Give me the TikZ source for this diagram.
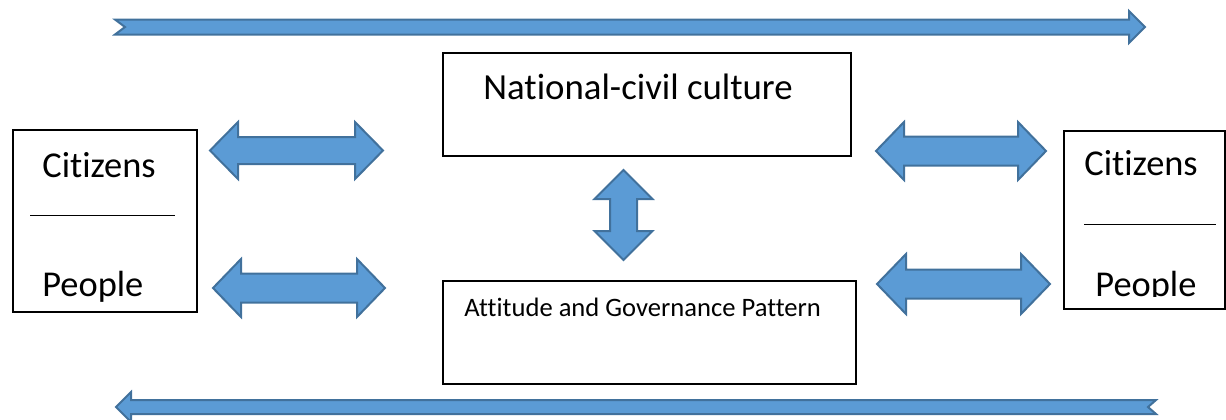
\documentclass[tikz,border=0pt]{standalone}
\usepackage{fontspec}
\setmainfont{Carlito}[Ligatures={NoCommon,NoContextual}]
\definecolor{arrowfill}{HTML}{5B9BD5}
\definecolor{arrowline}{HTML}{41719C}

\begin{document}
\begin{tikzpicture}[x=0.5pt,y=-0.5pt,
    blockarrow/.style={fill=arrowfill,draw=arrowline,line width=1pt,line join=miter},
    box/.style={draw,line width=0.8pt,anchor=north west,inner sep=0pt},
    lbl/.style={anchor=base west,inner sep=0pt}]
            \useasboundingbox (0,0) rectangle (1226,419);
            % long arrows
            \draw[blockarrow] (115,19.5) -- (1129,19.5) -- (1129,11) -- (1145,27) -- (1129,43) -- (1129,34.5) -- (115,34.5) -- (125,27) -- cycle;
            \draw[blockarrow] (116,407) -- (131,392) -- (131,400) -- (1156,400) -- (1148,407) -- (1156,414) -- (131,414) -- (131,422) -- cycle;
            % boxes
            \node[box, minimum width=92pt, minimum height=91pt] (citL) at (12,129) {};
            \node[box, minimum width=80.5pt, minimum height=89pt] (citR) at (1063,130) {};
            \node[box, minimum width=204pt, minimum height=51.5pt] (natbox) at (442,52) {};
            \node[box, minimum width=206.5pt, minimum height=51.5pt] (attbox) at (442,280) {};
            \node[lbl, font=\fontsize{18.4}{22}\selectfont] (natlbl) at (483,99) {National-civil culture};
            \node[lbl, font=\fontsize{13.3}{16}\selectfont] (attlbl) at (464,316) {Attitude and Governance Pattern};
            \node[lbl, font=\fontsize{18.2}{22}\selectfont] (citLtop) at (42,177) {Citizens};
            \node[lbl, font=\fontsize{18.2}{22}\selectfont] (citLbot) at (42,296) {People};
            \node[lbl, font=\fontsize{18.2}{22}\selectfont] (citRtop) at (1084,175) {Citizens};
            \begin{scope}
                \clip (1063,130) rectangle (1224,296);
                \node[lbl, font=\fontsize{18.2}{22}\selectfont] (citRbot) at (1095,296) {People};
            \end{scope}
            \draw[line width=0.5pt] (30,215) -- (175,215);
            \draw[line width=0.5pt] (1084,224) -- (1216,224);
            % double arrows
            \draw[blockarrow] (210,150.5) -- (238,122) -- (238,137) -- (355,137) -- (355,122) -- (383,150.5) -- (355,179) -- (355,164) -- (238,164) -- (238,179) -- cycle;
            \draw[blockarrow] (213,288) -- (241,259) -- (241,273.5) -- (357,273.5) -- (357,259) -- (385,288) -- (357,317) -- (357,302.5) -- (241,302.5) -- (241,317) -- cycle;
            \draw[blockarrow] (876,151) -- (904,122) -- (904,136.5) -- (1018,136.5) -- (1018,122) -- (1046,151) -- (1018,180) -- (1018,165.5) -- (904,165.5) -- (904,180) -- cycle;
            \draw[blockarrow] (877,284) -- (906,254) -- (906,269.5) -- (1021,269.5) -- (1021,254) -- (1050,284) -- (1021,314) -- (1021,298.5) -- (906,298.5) -- (906,314) -- cycle;
            \draw[blockarrow] (623.5,170) -- (652.5,199) -- (637,199) -- (637,231) -- (652.5,231) -- (623.5,260) -- (594.5,231) -- (610,231) -- (610,199) -- (594.5,199) -- cycle;
        \end{tikzpicture}
\end{document}
